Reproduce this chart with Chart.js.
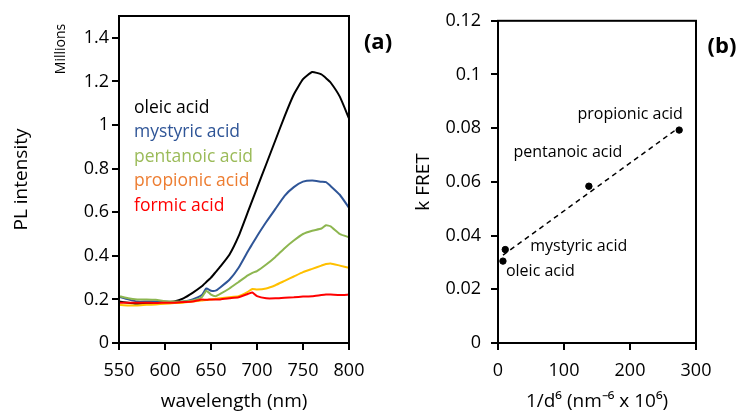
<!DOCTYPE html>
<html>
<head>
<meta charset="UTF-8" />
<title>PL spectra and k FRET</title>
<style type="text/css">
  body { margin: 0; background: #fff; }
  .chartBox { position: absolute; top: 0; height: 413px; }
  #boxA { left: 0; width: 400px; }
  #boxB { left: 400px; width: 342px; }
</style>
</head>
<body>
<div class="chartBox" id="boxA"><canvas id="chartA" width="400" height="413"></canvas></div>
<div class="chartBox" id="boxB"><canvas id="chartB" width="342" height="413"></canvas></div>

<script src="https://cdn.jsdelivr.net/npm/chart.js"></script>
<script>
// (a) PL spectra, intensity in millions
const wavelengths = [550, 560, 570, 580, 590, 600, 610, 620, 630, 640, 645, 650, 655, 660, 670, 680, 690, 695, 700, 710, 720, 730, 740, 750, 760, 770, 775, 780, 790, 800];
const oleic     = [0.19, 0.185, 0.18, 0.183, 0.185, 0.185, 0.19, 0.205, 0.23, 0.26, 0.28, 0.30, 0.325, 0.35, 0.405, 0.49, 0.6, 0.655, 0.71, 0.82, 0.93, 1.04, 1.14, 1.21, 1.243, 1.232, 1.215, 1.195, 1.13, 1.03];
const mystyric  = [0.212, 0.2, 0.19, 0.19, 0.19, 0.19, 0.188, 0.19, 0.2, 0.22, 0.25, 0.24, 0.24, 0.255, 0.29, 0.345, 0.42, 0.455, 0.49, 0.555, 0.615, 0.675, 0.715, 0.74, 0.745, 0.74, 0.738, 0.72, 0.68, 0.62];
const pentanoic = [0.215, 0.205, 0.2, 0.2, 0.198, 0.192, 0.19, 0.19, 0.195, 0.21, 0.24, 0.222, 0.215, 0.225, 0.25, 0.28, 0.31, 0.322, 0.33, 0.36, 0.395, 0.435, 0.47, 0.5, 0.515, 0.525, 0.54, 0.535, 0.5, 0.485];
const propionic = [0.175, 0.172, 0.172, 0.175, 0.177, 0.18, 0.183, 0.185, 0.19, 0.195, 0.197, 0.2, 0.202, 0.205, 0.21, 0.215, 0.235, 0.248, 0.245, 0.25, 0.265, 0.285, 0.305, 0.325, 0.34, 0.355, 0.362, 0.365, 0.355, 0.345];
const formic    = [0.185, 0.185, 0.185, 0.185, 0.183, 0.185, 0.185, 0.188, 0.19, 0.2, 0.198, 0.2, 0.2, 0.2, 0.205, 0.21, 0.225, 0.232, 0.215, 0.205, 0.205, 0.208, 0.21, 0.213, 0.215, 0.22, 0.222, 0.222, 0.22, 0.222];
const acids = ['oleic acid', 'mystyric acid', 'pentanoic acid', 'propionic acid', 'formic acid'];

// (b) k FRET against 1/d^6
const pointNames = ['oleic acid', 'mystyric acid', 'pentanoic acid', 'propionic acid'];
const invD6 = [7.5, 11, 137.7, 274.5];
const kFret = [0.0305, 0.0348, 0.0584, 0.0793];
const trendX = [7.5, 274.5];
const trendY = [0.0327, 0.0803];

const lineColors  = ['#000000', '#2F5597', '#8DB650', '#FFC000', '#FF0000'];
const labelColors = ['#000000', '#2F5597', '#9BBB59', '#ED7D31', '#FF0000'];

Chart.defaults.font.family = "'Open Sans', sans-serif";
Chart.defaults.color = '#000';

const trimNum = v => String(+v.toFixed(3));

// black frame round the plot area
const frameBox = {
	id: 'frameBox',
	afterDatasetsDraw(chart) {
		const {ctx, chartArea: a} = chart;
		ctx.save();
		ctx.strokeStyle = '#000';
		ctx.lineWidth = 2;
		ctx.strokeRect(a.left, a.top, a.right - a.left, a.bottom - a.top);
		ctx.restore();
	}
};

function tickGrid() {
	return { drawOnChartArea: false, color: '#000', lineWidth: 2, tickLength: 7 };
}

// coloured names inside panel (a), panel letter and unit note
const spectraNotes = {
	id: 'spectraNotes',
	afterDraw(chart) {
		const {ctx, chartArea: a} = chart;
		ctx.save();
		ctx.textBaseline = 'middle';
		ctx.textAlign = 'left';
		ctx.font = "17.5px 'Open Sans'";
		acids.forEach((name, i) => {
			ctx.fillStyle = labelColors[i];
			ctx.fillText(name, a.left + 15, a.top + 92 + i * 24.5);
		});
		ctx.fillStyle = '#000';
		ctx.textAlign = 'center';
		ctx.font = "bold 22px 'Open Sans'";
		ctx.fillText('(a)', a.right + 29, 43);
		ctx.translate(61, 49);
		ctx.rotate(-Math.PI / 2);
		ctx.font = "14px 'Open Sans'";
		ctx.fillText('Millions', 0, 0);
		ctx.restore();
	}
};

const series = [oleic, mystyric, pentanoic, propionic, formic];
const chartA = new Chart(document.getElementById('chartA'), {
	type: 'line',
	data: {
		datasets: series.map((vals, i) => ({
			label: acids[i],
			data: vals.map((v, j) => ({x: wavelengths[j], y: v})),
			borderColor: lineColors[i],
			borderWidth: 2,
			pointRadius: 0,
			tension: 0.15,
			fill: false
		})).reverse()
	},
	options: {
		responsive: false,
		animation: false,
		layout: { padding: {top: 16, right: 51, left: 0, bottom: 0} },
		plugins: { legend: {display: false}, tooltip: {enabled: false} },
		scales: {
			x: {
				type: 'linear', min: 550, max: 800,
				ticks: { stepSize: 50, font: {size: 18}, padding: 10, maxRotation: 0 },
				grid: tickGrid(),
				border: { display: false },
				title: { display: true, text: 'wavelength (nm)', font: {size: 19}, padding: {top: 0, bottom: 0} },
				afterFit(s) { s.height = 70; }
			},
			y: {
				type: 'linear', min: 0, max: 1.5,
				ticks: { stepSize: 0.2, includeBounds: false, font: {size: 18}, padding: 3, callback: trimNum },
				grid: tickGrid(),
				border: { display: false },
				title: { display: true, text: 'PL intensity', font: {size: 19}, padding: {top: 10, bottom: 0} },
				afterFit(s) { s.width = 119; }
			}
		}
	},
	plugins: [frameBox, spectraNotes]
});

// acid names beside the points in panel (b)
const pointNotes = {
	id: 'pointNotes',
	afterDraw(chart) {
		const {ctx, chartArea: a} = chart;
		const offsets = [
			{dx: 3, dy: 10, align: 'left'},
			{dx: 25, dy: -3, align: 'left'},
			{dx: -21, dy: -34, align: 'center'},
			{dx: -49, dy: -16, align: 'center'}
		];
		ctx.save();
		ctx.textBaseline = 'middle';
		ctx.font = "16px 'Open Sans'";
		ctx.fillStyle = '#000';
		chart.getDatasetMeta(1).data.forEach((pt, i) => {
			ctx.textAlign = offsets[i].align;
			ctx.fillText(pointNames[i], pt.x + offsets[i].dx, pt.y + offsets[i].dy);
		});
		ctx.textAlign = 'center';
		ctx.font = "bold 22px 'Open Sans'";
		ctx.fillText('(b)', a.right + 26, 47);
		ctx.restore();
	}
};

const chartB = new Chart(document.getElementById('chartB'), {
	type: 'scatter',
	data: {
		datasets: [
			{
				type: 'line',
				data: trendX.map((x, i) => ({x: x, y: trendY[i]})),
				borderColor: '#000',
				borderWidth: 1.5,
				borderDash: [5, 4],
				pointRadius: 0,
				fill: false
			},
			{
				data: invD6.map((x, i) => ({x: x, y: kFret[i]})),
				backgroundColor: '#000',
				borderColor: '#000',
				pointRadius: 3.2
			}
		]
	},
	options: {
		responsive: false,
		animation: false,
		layout: { padding: {top: 19, right: 46, left: 0, bottom: 0} },
		plugins: { legend: {display: false}, tooltip: {enabled: false} },
		scales: {
			x: {
				type: 'linear', min: 0, max: 300,
				ticks: { stepSize: 100, font: {size: 18}, padding: 10, maxRotation: 0 },
				grid: tickGrid(),
				border: { display: false },
				title: { display: true, text: '1/d\u2076 (nm\u207B\u2076 x 10\u2076)', font: {size: 19}, padding: {top: 0, bottom: 0} },
				afterFit(s) { s.height = 70; }
			},
			y: {
				type: 'linear', min: 0, max: 0.12,
				ticks: { stepSize: 0.02, font: {size: 18}, padding: 10, callback: trimNum },
				grid: tickGrid(),
				border: { display: false },
				title: { display: true, text: 'k FRET', font: {size: 19}, padding: {top: 12, bottom: 0} },
				afterFit(s) { s.width = 98; }
			}
		}
	},
	plugins: [frameBox, pointNotes]
});
</script>
</body>
</html>
